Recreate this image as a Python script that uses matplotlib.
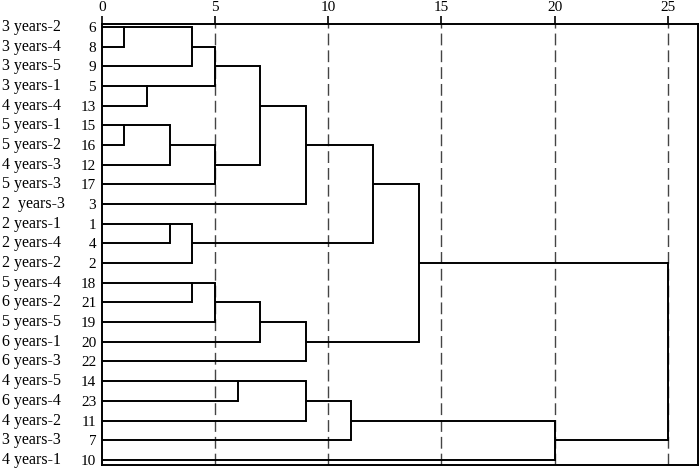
import matplotlib
matplotlib.use('Agg')
import matplotlib.pyplot as plt

# leaves in the order they are drawn, top to bottom
names = ['3 years-2', '3 years-4', '3 years-5', '3 years-1', '4 years-4',
         '5 years-1', '5 years-2', '4 years-3', '5 years-3', '2  years-3',
         '2 years-1', '2 years-4', '2 years-2', '5 years-4', '6 years-2',
         '5 years-5', '6 years-1', '6 years-3', '4 years-5', '6 years-4',
         '4 years-2', '3 years-3', '4 years-1']
cases = [6, 8, 9, 5, 13, 15, 16, 12, 17, 3, 1, 4, 2, 18, 21, 19, 20, 22,
         14, 23, 11, 7, 10]

# merge steps: leaves are 0..22, new clusters get 23, 24, ...
merge_a = [0, 23, 3, 24, 5, 27, 28, 26, 30, 10, 32, 31, 13, 35, 36, 37, 34,
           18, 40, 41, 42, 39]
merge_b = [1, 2, 4, 25, 6, 7, 8, 29, 9, 11, 12, 33, 14, 15, 16, 17, 38,
           19, 20, 21, 22, 43]
merge_h = [1, 4, 2, 5, 1, 3, 5, 7, 9, 3, 4, 12, 4, 5, 7, 9, 14,
           6, 9, 11, 20, 25]

plt.rcParams['font.family'] = ['Liberation Serif', 'DejaVu Serif']

fig = plt.figure(figsize=(7, 4.7), dpi=100)
ax = fig.add_axes([101.7 / 700, 5 / 470, 596.6 / 700, 441 / 470])

n = len(names)
row = list(range(n))
height = [0] * n

for a, b, h in zip(merge_a, merge_b, merge_h):
    ra, rb = row[a], row[b]
    ax.plot([height[a], h], [ra, ra], color='black', lw=1.4, solid_capstyle='butt')
    ax.plot([height[b], h], [rb, rb], color='black', lw=1.4, solid_capstyle='butt')
    ax.plot([h, h], [ra, rb], color='black', lw=1.4, solid_capstyle='projecting')
    row.append((ra + rb) // 2)
    height.append(h)

for v in [5, 10, 15, 20, 25]:
    ax.axvline(v, color='#444444', lw=1.0, dashes=(8.5, 3.6), zorder=0)

ax.set_xlim(0, 26.34)
ax.set_ylim(22.26, -0.152)

ax.xaxis.tick_top()
ax.set_xticks([0, 5, 10, 15, 20, 25])
ax.tick_params(axis='x', direction='out', length=6, width=1.2, labelsize=11, pad=1)

ax.set_yticks(range(n))
ax.set_yticklabels([str(c) for c in cases])
ax.tick_params(axis='y', length=0, labelsize=11, pad=4)

for i, nm in enumerate(names):
    ax.annotate(nm, xy=(0, i), xycoords=('axes fraction', 'data'),
                xytext=(-71.8, 0), textcoords='offset points',
                ha='left', va='center', fontsize=11.5)

for s in ax.spines.values():
    s.set_linewidth(1.4)

fig.savefig('out.png', dpi=100)
